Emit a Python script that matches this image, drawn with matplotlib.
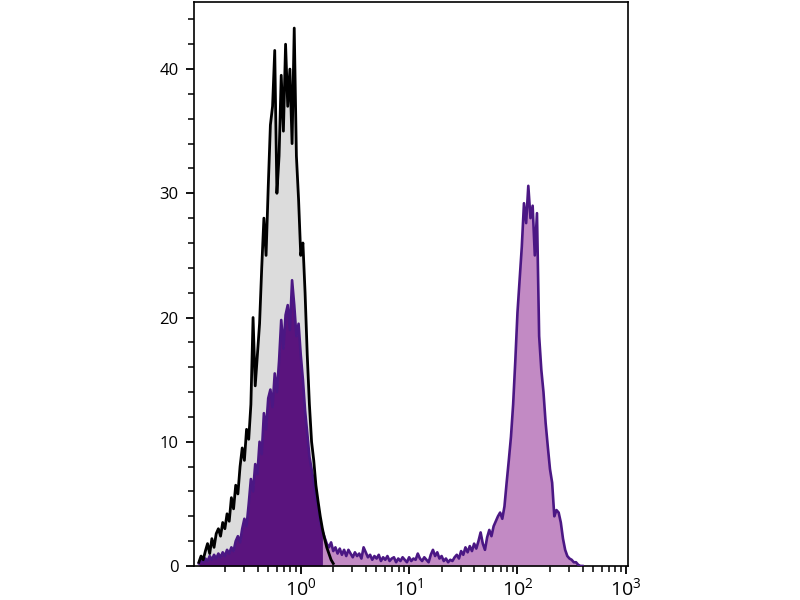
import numpy as np
import matplotlib
matplotlib.use("Agg")
import matplotlib.pyplot as plt
from matplotlib.ticker import LogLocator, MultipleLocator, NullFormatter

plt.rcParams['font.family'] = ['Open Sans', 'DejaVu Sans']

# histogram channels: log10 position of first bin, bin step (decades)
log_start = -0.94
log_step = 0.02

# unstained control (black line, gray fill)
control_counts = [
    0.3, 0.8, 0.5, 1.2, 1.8, 1.0, 2.2, 1.5, 2.6, 3.0,
    2.4, 3.5, 3.0, 4.2, 3.6, 5.5, 4.6, 6.5, 5.8, 8.0,
    9.5, 8.5, 11.0, 10.2, 13.0, 20.0, 14.5, 17.0, 19.5, 24.0,
    28.0, 25.0, 30.5, 35.5, 37.0, 41.5, 30.0, 33.0, 39.5, 35.0,
    42.0, 37.0, 40.0, 34.0, 43.3, 33.0, 29.5, 25.0, 26.0, 22.0,
    17.0, 13.0, 10.0, 8.5, 6.5, 5.2, 4.0, 3.0, 2.2, 1.5,
    1.0, 0.5, 0.2,
]

# stained sample (purple)
stained_counts = [
    0.2, 0.5, 0.3, 0.6, 0.4, 0.8, 0.5, 0.9, 0.6, 1.0,
    0.7, 1.1, 0.8, 1.3, 1.0, 1.5, 1.2, 2.0, 2.4, 1.9,
    3.0, 3.8, 3.2, 5.0, 7.0, 6.0, 8.2, 7.4, 10.0, 9.0,
    12.3, 11.0, 13.5, 14.2, 12.8, 15.5, 14.0, 16.5, 19.8, 17.5,
    20.2, 21.0, 19.0, 23.0, 21.0, 18.5, 19.5, 17.0, 15.0, 12.5,
    10.7, 8.8, 7.8, 6.8, 5.5, 4.8, 3.5, 2.8, 2.3, 1.8,
    1.5, 1.9, 1.2, 1.5, 1.0, 1.4, 0.9, 1.3, 0.8, 1.3,
    1.0, 0.7, 1.1, 0.8, 1.0, 0.6, 1.5, 1.1, 0.7, 0.9,
    0.5, 0.8, 0.6, 0.9, 0.4, 0.7, 0.5, 0.8, 0.4, 0.6,
    0.7, 0.3, 0.6, 0.4, 0.7, 0.5, 0.3, 0.7, 0.4, 0.6,
    0.5, 1.0, 0.6, 0.4, 0.7, 0.5, 0.3, 0.9, 1.3, 0.8,
    1.1, 0.6, 0.8, 0.4, 0.6, 0.3, 0.5, 0.4, 0.7, 0.9,
    0.6, 1.2, 0.9, 1.5, 1.1, 1.6, 1.2, 1.8, 1.4, 2.0,
    2.7, 1.8, 1.3, 2.3, 2.9, 2.4, 3.2, 3.6, 4.0, 4.3,
    3.8, 4.8, 6.7, 8.5, 10.4, 13.0, 16.5, 20.4, 23.0, 25.7,
    29.2, 27.6, 30.6, 28.0, 29.0, 25.0, 28.4, 18.5, 15.8, 14.0,
    11.5, 9.6, 7.8, 6.7, 4.0, 4.5, 4.3, 3.5, 2.2, 1.3,
    0.8, 0.6, 0.5, 0.3, 0.3, 0.1, 0.0, 0.0,
]

# negative / positive gate boundary (log10)
gate_split = 0.22

yticks = [0, 10, 20, 30, 40]


def channel_x(counts):
    idx = np.arange(len(counts))
    return 10 ** (log_start + log_step * idx)


fig = plt.figure(figsize=(8, 6), dpi=100)
ax = fig.add_axes([0.2425, 0.0567, 0.5425, 0.94])

xc = channel_x(control_counts)
yc = np.array(control_counts)
xs = channel_x(stained_counts)
ys = np.array(stained_counts)

ax.fill_between(xc, 0, yc, color='#dcdcdc', lw=0, zorder=1)

neg = np.log10(xs) <= gate_split + 1e-9
pos = np.log10(xs) >= gate_split - log_step
ax.fill_between(xs, 0, ys, where=neg, color='#5a147e', lw=0, zorder=2)
ax.fill_between(xs, 0, ys, where=pos, color='#c28ac4', lw=0, zorder=2)
ax.plot(xs, ys, color='#4b1784', lw=1.9, zorder=3)
ax.plot(xc, yc, color='black', lw=2.0, zorder=4)

ax.set_xscale('log')
ax.set_xlim(10 ** -0.985, 10 ** 3.02)
ax.set_ylim(0, 45.4)

ax.xaxis.set_major_locator(LogLocator(base=10, numticks=10))
ax.xaxis.set_minor_locator(LogLocator(base=10, subs=np.arange(2, 10), numticks=10))
ax.xaxis.set_minor_formatter(NullFormatter())
ax.set_yticks(yticks)
ax.yaxis.set_minor_locator(MultipleLocator(2))

ax.tick_params(which='major', length=6, width=1.3, labelsize=12, direction='out')
ax.tick_params(which='minor', length=4, width=1.1, direction='out')
ax.tick_params(axis='x', pad=2, labelsize=14)
ax.tick_params(axis='y', pad=5)

for s in ax.spines.values():
    s.set_linewidth(1.2)

fig.savefig('out.png', dpi=100)
